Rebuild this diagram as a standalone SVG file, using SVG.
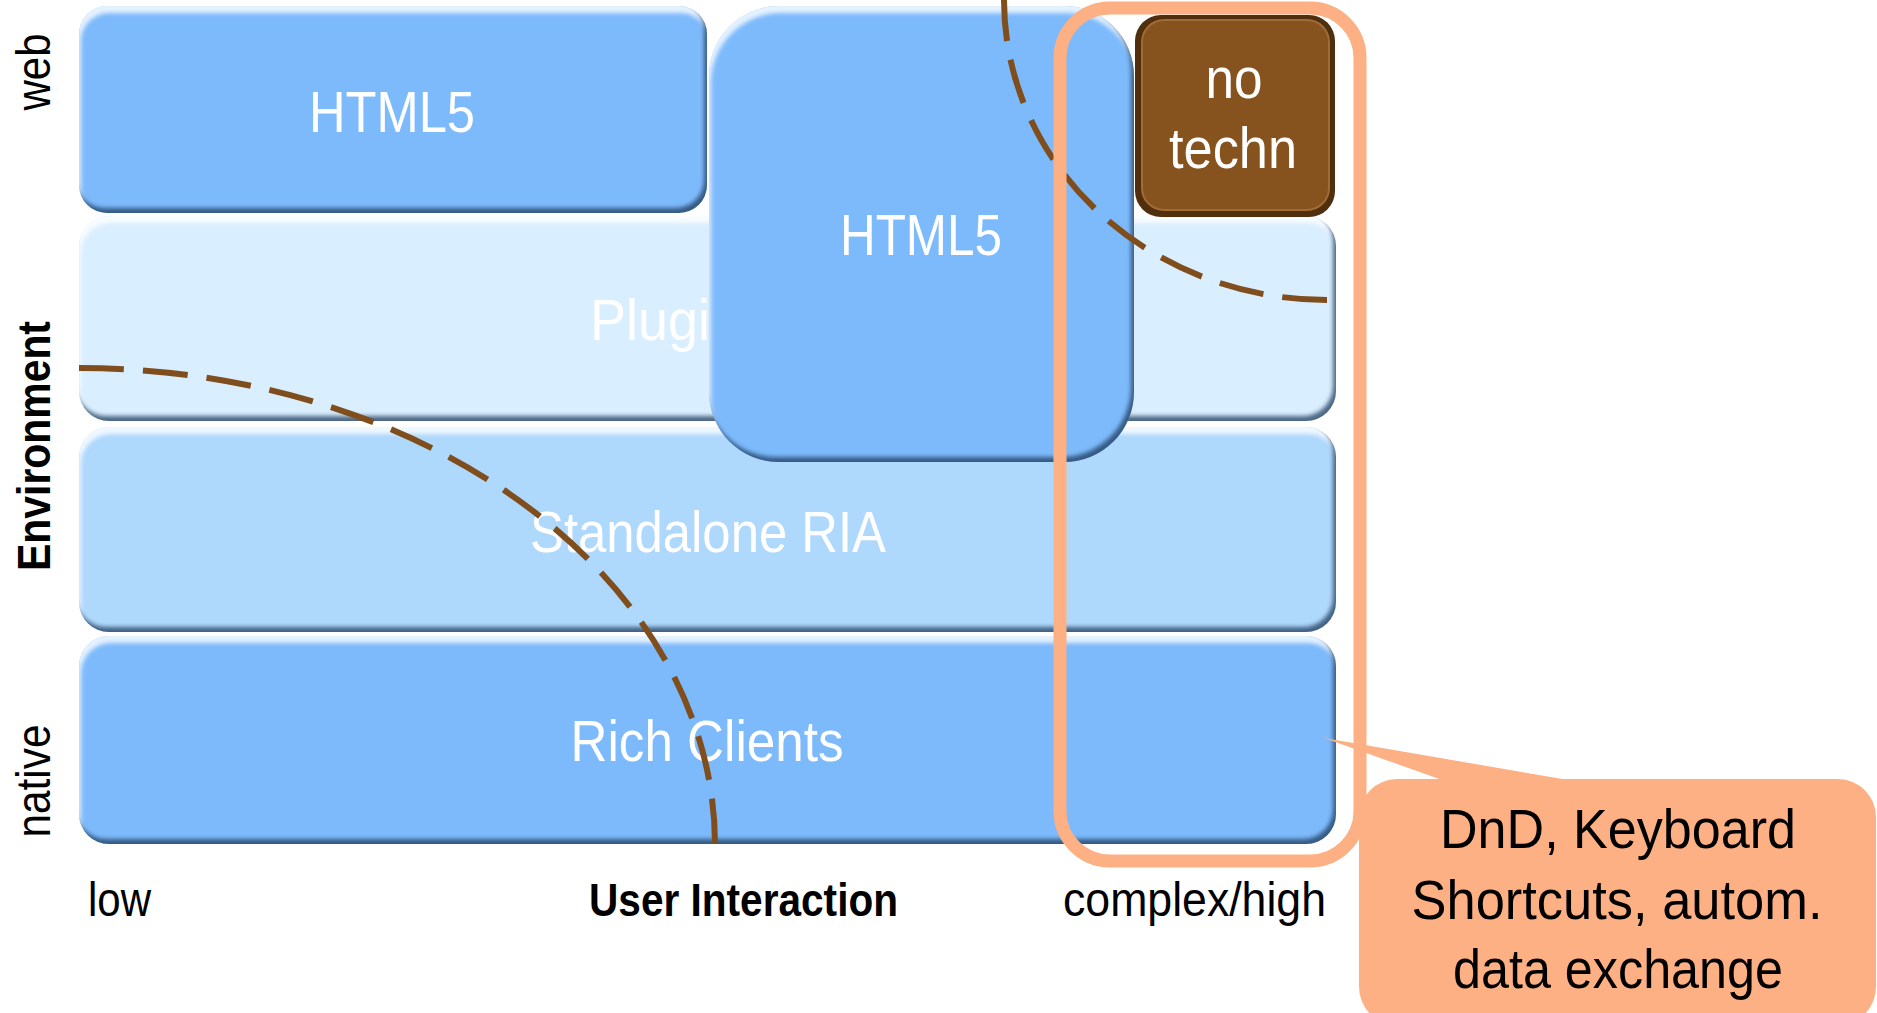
<svg xmlns="http://www.w3.org/2000/svg" width="1877" height="1013" viewBox="0 0 1877 1013">
<defs>
<style>
.lbl{font-family:"Liberation Sans",Arial,sans-serif;fill:#ffffff;font-size:57px;text-anchor:middle}
.ax{font-family:"Liberation Sans",Arial,sans-serif;fill:#000000;font-size:48px}
.axb{font-family:"Liberation Sans",Arial,sans-serif;fill:#000000;font-size:46px;font-weight:bold}
.co{font-family:"Liberation Sans",Arial,sans-serif;fill:#000000;font-size:55px;text-anchor:middle}
.mid{fill:#7dbafc}
.pl{fill:#d9eefe}
.sa{fill:#afd8fd}
.dash{fill:none;stroke:#7f4e1c;stroke-width:6;stroke-dasharray:45 19}
</style>
<filter id="bev" x="-3%" y="-3%" width="106%" height="106%" color-interpolation-filters="sRGB">
  <feGaussianBlur in="SourceAlpha" stdDeviation="2" result="blur"/>
  <feOffset in="blur" dx="-3" dy="-5" result="od"/>
  <feComposite in="SourceAlpha" in2="od" operator="out" result="de"/>
  <feFlood flood-color="#1d3a5c" flood-opacity="0.75"/>
  <feComposite in2="de" operator="in" result="dark"/>
  <feOffset in="blur" dx="2" dy="7" result="ol"/>
  <feComposite in="SourceAlpha" in2="ol" operator="out" result="le"/>
  <feFlood flood-color="#ffffff" flood-opacity="0.8"/>
  <feComposite in2="le" operator="in" result="light"/>
  <feMerge><feMergeNode in="SourceGraphic"/><feMergeNode in="light"/><feMergeNode in="dark"/></feMerge>
</filter>
</defs>

<g id="axis-labels">
  <text class="ax" transform="translate(50,72) rotate(-90)" text-anchor="middle" textLength="77" lengthAdjust="spacingAndGlyphs">web</text>
  <text class="axb" transform="translate(50,446) rotate(-90)" text-anchor="middle" font-size="48" textLength="250" lengthAdjust="spacingAndGlyphs">Environment</text>
  <text class="ax" transform="translate(50,781) rotate(-90)" text-anchor="middle" textLength="113" lengthAdjust="spacingAndGlyphs">native</text>
  <text class="ax" x="88" y="916" textLength="63" lengthAdjust="spacingAndGlyphs">low</text>
  <text class="axb" x="589" y="916" textLength="309" lengthAdjust="spacingAndGlyphs">User Interaction</text>
  <text class="ax" x="1063" y="916" textLength="263" lengthAdjust="spacingAndGlyphs">complex/high</text>
</g>

<g id="plugin">
  <rect class="pl" x="79" y="216" width="1257" height="205" rx="30" filter="url(#bev)"/>
  <text class="lbl" x="665" y="340" textLength="150" lengthAdjust="spacingAndGlyphs">Plugin</text>
</g>
<g id="standalone-ria">
  <rect class="sa" x="79" y="427" width="1257" height="205" rx="30" filter="url(#bev)"/>
  <text class="lbl" x="708" y="552" textLength="356" lengthAdjust="spacingAndGlyphs">Standalone RIA</text>
</g>
<g id="rich-clients">
  <rect class="mid" x="79" y="636" width="1257" height="208" rx="30" filter="url(#bev)"/>
  <text class="lbl" x="707" y="761" textLength="273" lengthAdjust="spacingAndGlyphs">Rich Clients</text>
</g>
<g id="html5-web">
  <rect class="mid" x="79" y="6" width="628" height="207" rx="28" filter="url(#bev)"/>
  <text class="lbl" x="392" y="132" textLength="166" lengthAdjust="spacingAndGlyphs">HTML5</text>
</g>
<g id="html5-big">
  <rect class="mid" x="709" y="6" width="425" height="456" rx="70" filter="url(#bev)"/>
  <text class="lbl" x="921" y="255" textLength="162" lengthAdjust="spacingAndGlyphs">HTML5</text>
</g>
<g id="no-techn">
  <rect x="1135" y="15" width="200" height="202" rx="26" fill="#4f2f0e"/>
  <rect x="1142" y="20" width="187" height="190" rx="22" fill="#86531f" stroke="#a06b35" stroke-width="2"/>
  <text class="lbl" x="1234" y="98" textLength="57" lengthAdjust="spacingAndGlyphs">no</text>
  <text class="lbl" x="1233" y="168" textLength="128" lengthAdjust="spacingAndGlyphs">techn</text>
</g>

<g id="connectors">
  <path class="dash" d="M79,368 A636,477 0 0 1 715,845"/>
  <path class="dash" d="M1327,300 A323,300 0 0 1 1004,0"/>
</g>

<g id="highlight">
  <rect x="1060" y="8" width="300" height="853" rx="50" fill="none" stroke="#fdb083" stroke-width="13"/>
</g>
<g id="callout">
  <path d="M1324,738 L1574,781 L1445,781 Z" fill="#fdb083"/>
  <rect x="1359" y="779" width="517" height="246" rx="38" fill="#fdb083"/>
  <text class="co" x="1618" y="848" textLength="356" lengthAdjust="spacingAndGlyphs">DnD, Keyboard</text>
  <text class="co" x="1617" y="919" textLength="411" lengthAdjust="spacingAndGlyphs">Shortcuts, autom.</text>
  <text class="co" x="1618" y="988" textLength="330" lengthAdjust="spacingAndGlyphs">data exchange</text>
</g>
</svg>
